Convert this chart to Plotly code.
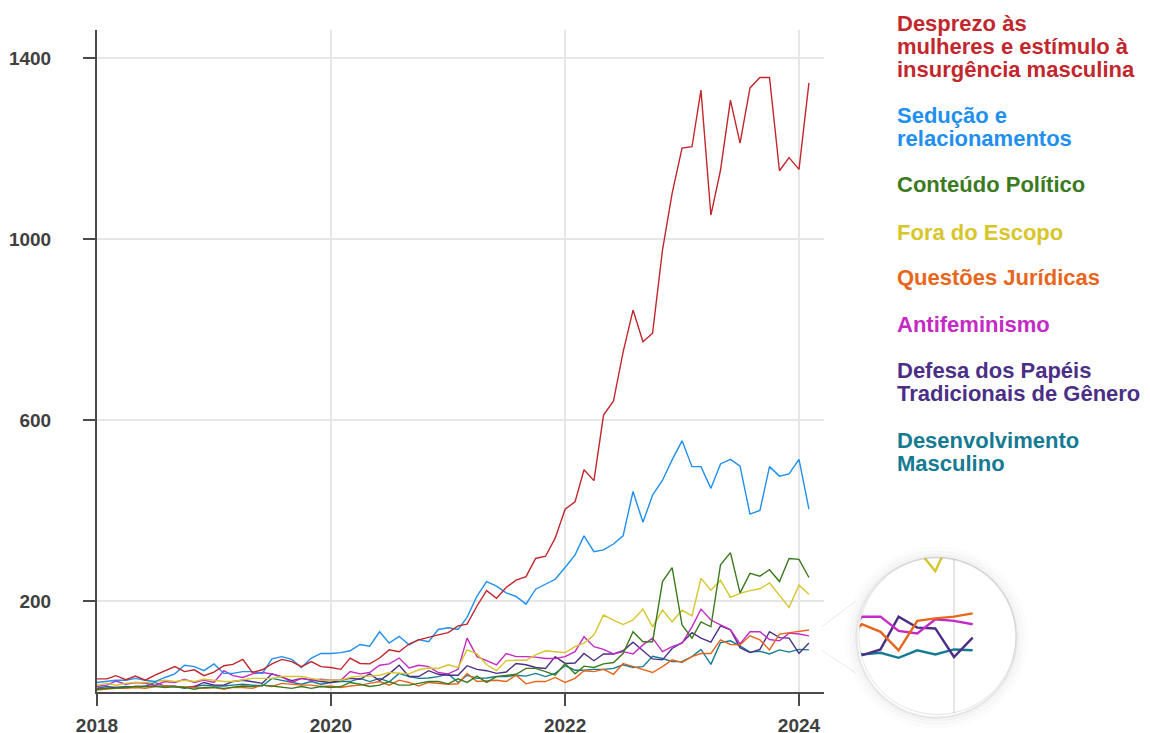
import numpy as np
import pandas as pd
import plotly.graph_objects as go

# ---------------- data ----------------
months = pd.date_range("2018-01-01", "2024-02-01", freq="MS")

series_names = [
    "Desprezo às mulheres e estímulo à insurgência masculina",
    "Sedução e relacionamentos",
    "Conteúdo Político",
    "Fora do Escopo",
    "Questões Jurídicas",
    "Antifeminismo",
    "Defesa dos Papéis Tradicionais de Gênero",
    "Desenvolvimento Masculino",
]

desprezo = [28, 28, 35, 26, 34, 25, 36, 46, 55, 44, 48, 35, 43, 57, 60, 71, 42, 48, 61, 71,
            66, 55, 66, 55, 53, 49, 74, 62, 61, 74, 92, 88, 105, 114, 120, 125,
            130, 145, 149, 189, 223, 206, 230, 246, 254, 294, 299, 339, 403, 419, 490, 466,
            611, 642, 750, 843, 773, 792, 976, 1101, 1201, 1204, 1329, 1053, 1152, 1307,
            1212, 1334, 1357, 1357, 1151, 1180, 1154, 1345]
seducao = [20, 22, 25, 25, 29, 25, 22, 31, 39, 58, 55, 46, 61, 40, 40, 44, 44, 40, 72, 77,
           71, 53, 74, 84, 84, 86, 90, 104, 100, 132, 107, 122, 103, 115, 110, 137,
           141, 137, 164, 211, 243, 233, 218, 210, 193, 226, 237, 248, 274, 302, 344, 309,
           313, 326, 344, 442, 374, 434, 467, 512, 554, 497, 497, 449, 503, 513,
           498, 392, 400, 497, 476, 481, 513, 403]
politico = [5, 7, 7, 9, 11, 11, 12, 9, 11, 9, 5, 9, 9, 7, 9, 12, 11, 14, 12, 9,
            7, 11, 7, 11, 9, 11, 20, 16, 11, 14, 22, 14, 14, 18, 22, 22,
            17, 28, 20, 34, 20, 33, 36, 38, 51, 51, 44, 36, 62, 39, 56, 53,
            61, 64, 84, 132, 110, 110, 243, 274, 147, 118, 154, 143, 280, 307,
            218, 261, 255, 269, 243, 294, 292, 252]
fora_escopo = [14, 18, 14, 18, 20, 20, 22, 25, 22, 25, 22, 27, 25, 22, 22, 25, 29, 29, 29, 33,
               33, 33, 29, 25, 25, 25, 31, 34, 34, 36, 42, 40, 39, 48, 52, 51,
               59, 53, 92, 83, 59, 46, 68, 69, 69, 81, 90, 88, 86, 99, 107, 125,
               169, 158, 148, 158, 182, 143, 180, 154, 180, 167, 250, 224, 246, 208,
               217, 223, 227, 240, 213, 186, 235, 215]
juridicas = [3, 5, 7, 7, 9, 7, 11, 12, 11, 11, 9, 7, 9, 5, 9, 9, 7, 14, 11, 18,
             16, 14, 14, 11, 12, 9, 12, 14, 18, 22, 14, 25, 20, 12, 20, 18,
             16, 17, 40, 22, 23, 25, 22, 36, 17, 22, 22, 31, 20, 29, 46, 44,
             49, 38, 62, 55, 49, 42, 55, 70, 64, 77, 84, 84, 114, 104,
             103, 123, 114, 92, 127, 130, 132, 136]
antifeminismo = [11, 14, 23, 16, 20, 18, 14, 22, 20, 27, 20, 25, 20, 46, 35, 31, 39, 42, 39, 33,
                 20, 29, 25, 27, 25, 25, 44, 39, 42, 58, 61, 74, 52, 58, 55, 42,
                 39, 49, 118, 77, 68, 59, 84, 77, 77, 76, 73, 73, 77, 88, 121, 99,
                 93, 83, 88, 83, 103, 118, 88, 99, 107, 143, 182, 158, 147, 137,
                 105, 132, 132, 115, 112, 129, 127, 123]
papeis = [5, 7, 9, 9, 11, 11, 11, 12, 11, 9, 11, 20, 14, 14, 22, 25, 22, 18, 39, 31,
          24, 29, 25, 22, 20, 25, 29, 27, 39, 24, 39, 58, 33, 33, 46, 38,
          36, 36, 57, 49, 46, 40, 43, 62, 59, 53, 51, 77, 62, 63, 84, 68,
          83, 83, 90, 109, 90, 72, 70, 95, 108, 130, 118, 109, 145, 136,
          97, 86, 93, 132, 119, 118, 84, 107]
desenvolvimento = [7, 11, 9, 11, 9, 12, 20, 12, 11, 7, 11, 14, 12, 12, 14, 16, 14, 12, 29, 25,
                   20, 16, 22, 16, 20, 22, 22, 29, 22, 29, 21, 40, 33, 29, 30, 33,
                   39, 20, 36, 29, 30, 33, 33, 36, 34, 40, 33, 40, 57, 47, 47, 49,
                   49, 51, 59, 53, 55, 78, 73, 66, 66, 77, 93, 60, 108, 112,
                   101, 87, 89, 83, 92, 87, 93, 92]

series_values = [desprezo, seducao, politico, fora_escopo, juridicas,
                 antifeminismo, papeis, desenvolvimento]

colors = ["#c1272d", "#1f8ff0", "#3b7a1f", "#d6c62b", "#e8661c",
          "#c42ac4", "#4b2f86", "#167a93"]

legend_lines = [
    ["Desprezo às", "mulheres e estímulo à", "insurgência masculina"],
    ["Sedução e", "relacionamentos"],
    ["Conteúdo Político"],
    ["Fora do Escopo"],
    ["Questões Jurídicas"],
    ["Antifeminismo"],
    ["Defesa dos Papéis", "Tradicionais de Gênero"],
    ["Desenvolvimento", "Masculino"],
]

y_tick_vals = [200, 600, 1000, 1400]
x_tick_vals = ["2018-01-01", "2020-01-01", "2022-01-01", "2024-01-01"]
x_tick_text = ["2018", "2020", "2022", "2024"]

# ---------------- layout geometry (pixels in the screenshot) ----------------
W, H = 1150, 733
BODY = 8  # default page margin of the html body
PL, PR, PT, PB = 97, 824, 30, 691.5          # main plot area
Y_MAX = 1462
X0 = pd.Timestamp("2018-01-01")
px_per_day = (799 - 97) / (pd.Timestamp("2024-01-01") - X0).days
X1 = X0 + pd.Timedelta(days=(PR - PL) / px_per_day)

def fx(px):
    return (px - BODY) / W

def fy(py):
    return 1 - (py - BODY) / H

# magnifier lens
LCX, LCY, LR = 937.5, 636.0, 78.5
lens_px_day = 0.6022
lens_px_unit = 0.84
lens_center_date = pd.Timestamp("2024-01-01") - pd.Timedelta(days=16.5 / lens_px_day)
lens_center_val = 109
half_days = pd.Timedelta(days=LR / lens_px_day)
half_val = LR / lens_px_unit

fig = go.Figure()

for i in range(len(series_names) - 1, -1, -1):
    fig.add_trace(go.Scatter(
        x=months, y=series_values[i], mode="lines", name=series_names[i],
        line=dict(color=colors[i], width=1.4), showlegend=False,
        xaxis="x", yaxis="y",
    ))
for i in range(len(series_names) - 1, -1, -1):
    fig.add_trace(go.Scatter(
        x=months, y=series_values[i], mode="lines", name=series_names[i],
        line=dict(color=colors[i], width=2.4), showlegend=False,
        xaxis="x2", yaxis="y2", hoverinfo="skip",
    ))

axis_color = "#4a4a4a"
grid_color = "#e6e6e6"
tick_font = dict(family="Liberation Sans, Arial, sans-serif", size=19,
                 color="#404040", weight="bold")

fig.update_layout(
    width=W, height=H, autosize=False,
    margin=dict(l=0, r=0, t=0, b=0, autoexpand=False),
    paper_bgcolor="white", plot_bgcolor="white",
    showlegend=False,
    xaxis=dict(
        domain=[fx(PL), fx(PR)], range=[X0, X1], type="date",
        tickvals=x_tick_vals, ticktext=x_tick_text,
        showgrid=True, gridcolor=grid_color, gridwidth=1.5,
        showline=True, linecolor=axis_color, linewidth=2,
        ticks="outside", ticklen=12, tickwidth=2, tickcolor=axis_color,
        tickfont=tick_font, zeroline=False, ticklabelstandoff=4,
        anchor="y", automargin=False,
    ),
    yaxis=dict(
        domain=[fy(PB), fy(PT)], range=[0, Y_MAX],
        tickvals=y_tick_vals,
        showgrid=True, gridcolor=grid_color, gridwidth=1.5,
        showline=True, linecolor=axis_color, linewidth=2,
        ticks="outside", ticklen=12, tickwidth=2, tickcolor=axis_color,
        tickfont=tick_font, zeroline=False, ticklabelstandoff=28,
        anchor="x", automargin=False,
    ),
    xaxis2=dict(
        domain=[fx(LCX - LR), fx(LCX + LR)],
        range=[lens_center_date - half_days, lens_center_date + half_days],
        type="date", tickvals=["2024-01-01"], showticklabels=False,
        showgrid=True, gridcolor=grid_color, gridwidth=2,
        showline=False, zeroline=False, ticks="", anchor="y2", automargin=False,
    ),
    yaxis2=dict(
        domain=[fy(LCY + LR), fy(LCY - LR)],
        range=[lens_center_val - half_val, lens_center_val + half_val],
        showgrid=False, showticklabels=False, showline=False,
        zeroline=False, ticks="", anchor="x2", automargin=False,
    ),
)

# ---------------- lens mask, shadow and cone ----------------
shapes = []
shapes.append(dict(type="line", xref="paper", yref="paper",
                   x0=fx(822), y0=fy(626.5), x1=fx(868), y1=fy(592),
                   line=dict(color="#ebebeb", width=1), layer="above"))
shapes.append(dict(type="line", xref="paper", yref="paper",
                   x0=fx(822), y0=fy(650.5), x1=fx(868), y1=fy(681),
                   line=dict(color="#ebebeb", width=1), layer="above"))

pad = 3
sq = [(LCX - LR - pad, LCY - LR - pad), (LCX + LR + pad, LCY - LR - pad),
      (LCX + LR + pad, LCY + LR + pad), (LCX - LR - pad, LCY + LR + pad)]
path = "M " + " L ".join(f"{fx(a):.5f},{fy(b):.5f}" for a, b in sq) + " Z "
ang = np.linspace(0, 2 * np.pi, 181)[:-1]
circ = [(LCX + LR * np.cos(t), LCY + LR * np.sin(t)) for t in ang]
path += "M " + " L ".join(f"{fx(a):.5f},{fy(b):.5f}" for a, b in circ) + " Z"
shapes.append(dict(type="path", path=path, xref="paper", yref="paper",
                   fillcolor="white", fillrule="evenodd",
                   line=dict(width=0), layer="above"))

for dr, w, a in [(10, 6, 0.012), (6.5, 4, 0.025), (3.5, 3, 0.045), (1.5, 2, 0.09)]:
    r = LR + dr
    cx, cy = LCX - 1, LCY + 1.5
    shapes.append(dict(type="circle", xref="paper", yref="paper",
                       x0=fx(cx - r), x1=fx(cx + r), y0=fy(cy + r), y1=fy(cy - r),
                       line=dict(color=f"rgba(0,0,0,{a})", width=w), layer="above"))
shapes.append(dict(type="circle", xref="paper", yref="paper",
                   x0=fx(LCX - LR), x1=fx(LCX + LR), y0=fy(LCY + LR), y1=fy(LCY - LR),
                   line=dict(color="rgba(0,0,0,0.10)", width=1), layer="above"))
fig.update_layout(shapes=shapes)

# ---------------- legend as coloured text ----------------
group_tops = [23.7, 115.5, 184.7, 232.5, 277.5, 324.0, 370.8, 440.8]
line_step = 22.7
annotations = []
for gi, lines in enumerate(legend_lines):
    for li, txt in enumerate(lines):
        annotations.append(dict(
            text=txt, xref="paper", yref="paper",
            x=fx(896), y=fy(group_tops[gi] + li * line_step),
            xanchor="left", yanchor="middle", showarrow=False, borderpad=0,
            font=dict(family="Liberation Sans, Arial, sans-serif", size=22,
                      color=colors[gi], weight="bold"),
        ))
fig.update_layout(annotations=annotations)

fig.write_html("out.html")
